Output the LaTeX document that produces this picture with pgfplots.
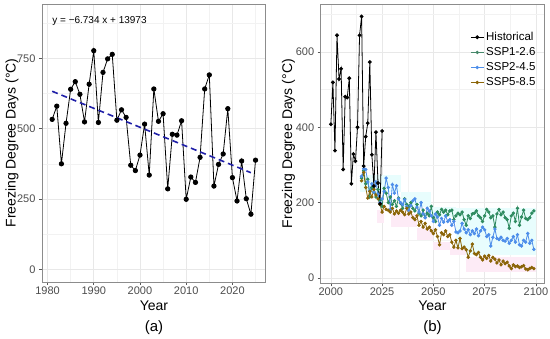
\documentclass[border=0pt]{standalone}
\usepackage{fontspec}
\setmainfont{Liberation Sans}
\usepackage{pgfplots}
\pgfplotsset{compat=1.18}
\usepackage{pgfplotstable}

\definecolor{sspone}{HTML}{2E8B60}
\definecolor{ssptwo}{HTML}{4D8EEA}
\definecolor{sspfive}{HTML}{8B6508}
\definecolor{trend}{HTML}{2020A8}
\definecolor{ribcyan}{HTML}{E8FDFD}
\definecolor{ribpink}{HTML}{FDEBF6}

\pgfplotstableread{
year val
1981 533
1982 580
1983 375
1984 519
1985 640
1986 667
1987 622
1988 524
1989 658
1990 777
1991 522
1992 700
1993 748
1994 764
1995 530
1996 567
1997 540
1998 370
1999 351
2000 406
2001 516
2002 335
2003 641
2004 526
2005 553
2006 286
2007 480
2008 477
2009 528
2010 249
2011 328
2012 309
2013 398
2014 641
2015 691
2016 296
2017 373
2018 410
2019 571
2020 326
2021 243
2022 385
2023 251
2024 196
2025 388
}\histA

\pgfplotstableread{
year val
2000 408
2001 519
2002 338
2003 644
2004 528
2005 555
2006 288
2007 481
2008 479
2009 530
2010 250
2011 329
2012 310
2013 400
2014 644
2015 694
2016 297
2017 375
2018 411
2019 573
2020 327
2021 244
2022 387
2023 252
2024 197
2025 390
}\histB

\pgfplotstableread{
year val
2015 265
2016 285
2017 250
2018 262
2019 215
2020 240
2021 228
2022 215
2023 235
2024 205
2025 190
2026 238
2027 225
2028 200
2029 215
2030 195
2031 205
2032 190
2033 212
2034 198
2035 185
2036 210
2037 195
2038 190
2039 200
2040 185
2041 178
2042 195
2043 172
2044 165
2045 180
2046 160
2047 172
2048 165
2049 190
2050 160
2051 150
2052 175
2053 168
2054 182
2055 175
2056 180
2057 168
2058 178
2059 180
2060 155
2061 165
2062 172
2063 168
2064 175
2065 155
2066 140
2067 165
2068 158
2069 170
2070 172
2071 178
2072 165
2073 160
2074 150
2075 165
2076 182
2077 175
2078 160
2079 165
2080 135
2081 170
2082 182
2083 168
2084 175
2085 160
2086 155
2087 132
2088 165
2089 172
2090 150
2091 185
2092 140
2093 162
2094 180
2095 158
2096 155
2097 160
2098 172
2099 178
}\sspA

\pgfplotstableread{
year val
2015 270
2016 290
2017 288
2018 255
2019 232
2020 250
2021 228
2022 255
2023 222
2024 200
2025 210
2026 230
2027 265
2028 240
2029 182
2030 248
2031 225
2032 245
2033 210
2034 200
2035 195
2036 208
2037 190
2038 180
2039 192
2040 205
2041 210
2042 188
2043 175
2044 200
2045 170
2046 160
2047 185
2048 178
2049 165
2050 150
2051 170
2052 162
2053 140
2054 158
2055 148
2056 165
2057 150
2058 155
2059 140
2060 150
2061 122
2062 120
2063 125
2064 145
2065 130
2066 120
2067 128
2068 115
2069 125
2070 118
2071 130
2072 112
2073 125
2074 135
2075 128
2076 110
2077 115
2078 85
2079 108
2080 130
2081 105
2082 102
2083 108
2084 100
2085 98
2086 105
2087 92
2088 100
2089 110
2090 95
2091 115
2092 88
2093 85
2094 100
2095 95
2096 118
2097 92
2098 100
2099 76
}\sspB

\pgfplotstableread{
year val
2015 258
2016 280
2017 240
2018 212
2019 230
2020 215
2021 235
2022 220
2023 210
2024 195
2025 175
2026 190
2027 182
2028 180
2029 175
2030 185
2031 170
2032 178
2033 172
2034 180
2035 175
2036 168
2037 185
2038 170
2039 175
2040 160
2041 155
2042 165
2043 140
2044 150
2045 135
2046 145
2047 130
2048 135
2049 125
2050 118
2051 128
2052 110
2053 88
2054 120
2055 115
2056 125
2057 110
2058 115
2059 95
2060 82
2061 100
2062 80
2063 105
2064 78
2065 82
2066 75
2067 55
2068 72
2069 90
2070 65
2071 62
2072 68
2073 55
2074 48
2075 58
2076 52
2077 60
2078 45
2079 55
2080 50
2081 40
2082 48
2083 35
2084 45
2085 38
2086 42
2087 32
2088 25
2089 35
2090 30
2091 32
2092 28
2093 30
2094 33
2095 24
2096 22
2097 25
2098 28
2099 25
}\sspC

\pgfplotsset{
  panel/.style={
    scale only axis,
    anchor=south west,
    axis line style={black!45, line width=0.7pt},
    grid=both,
    major grid style={black!9, line width=0.6pt},
    minor grid style={black!5, line width=0.35pt},
    tick style={black!65, line width=0.6pt},
    major tick length=3pt,
    minor tick length=0pt,
    tick align=outside,
    xtick pos=bottom,
    ytick pos=left,
    ticklabel style={font=\fontsize{11}{13}\selectfont, text=black!70},
    xticklabel style={inner sep=1.5pt},
    /pgf/number format/assume math mode=true,
    /pgf/number format/1000 sep={},
    clip=true,
  },
}

\begin{document}
\begin{tikzpicture}
\useasboundingbox (0,0) rectangle (550pt,339pt);

% ---------- panel (a) ----------
\begin{axis}[panel,
  at={(42pt,57pt)}, width=223.7pt, height=278pt,
  xmin=1978.8, xmax=2027.2, ymin=-45, ymax=943,
  xtick={1980,1990,2000,2010,2020},
  minor xtick={1985,1995,2005,2015,2025},
  ytick={0,250,500,750},
  minor ytick={125,375,625,875},
]
\addplot[black, line width=0.8pt, mark=*, mark size=2.2pt, mark options={fill=black, draw=black}] table[x=year,y=val] {\histA};
\addplot[trend, line width=1.6pt, dash pattern=on 6pt off 4pt] coordinates {(1981,632.9) (2024,343.4)};
\node[anchor=west, font=\fontsize{10}{12}\selectfont, inner sep=0pt] at (axis cs:1981,883) {y = −6.734 x + 13973};
\end{axis}

% ---------- panel (b) ----------
\begin{axis}[panel,
  at={(320.7pt,55.7pt)}, width=223.3pt, height=279.3pt,
  xmin=1995.05, xmax=2103.95, ymin=-14, ymax=727,
  xtick={2000,2025,2050,2075,2100},
  minor xtick={2012.5,2037.5,2062.5,2087.5},
  ytick={0,200,400,600},
  minor ytick={100,300,500,700},
  legend image code/.code={\draw[mark repeat=2,mark phase=2,#1] plot coordinates {(0pt,0pt) (6.5pt,0pt) (13pt,0pt)};},
  legend style={at={(rel axis cs:0.665,0.91)}, anchor=north west, draw=none, fill=none,
    font=\fontsize{11.5}{13.5}\selectfont, row sep=1.5pt, inner sep=1pt},
  legend cell align=left,
]
% faint ribbons
\addplot[draw=none, fill=ribcyan, forget plot] coordinates {(2014,229) (2034,229) (2034,273) (2014,273)} -- cycle;
\addplot[draw=none, fill=ribcyan, forget plot] coordinates {(2034,189) (2049,189) (2049,229) (2034,229)} -- cycle;
\addplot[draw=none, fill=ribcyan, forget plot] coordinates {(2049,163) (2061,163) (2061,189) (2049,189)} -- cycle;
\addplot[draw=none, fill=ribcyan, forget plot] coordinates {(2061,61) (2100,61) (2100,185) (2061,185)} -- cycle;
\addplot[draw=none, fill=ribpink, forget plot] coordinates {(2022.5,145) (2026,145) (2026,180) (2022.5,180)} -- cycle;
\addplot[draw=none, fill=ribpink, forget plot] coordinates {(2029.5,136) (2042,136) (2042,171) (2029.5,171)} -- cycle;
\addplot[draw=none, fill=ribpink, forget plot] coordinates {(2042,101) (2050,101) (2050,132) (2042,132)} -- cycle;
\addplot[draw=none, fill=ribpink, forget plot] coordinates {(2050,74) (2058,74) (2058,96) (2050,96)} -- cycle;
\addplot[draw=none, fill=ribpink, forget plot] coordinates {(2058,61) (2066,61) (2066,79) (2058,79)} -- cycle;
\addplot[draw=none, fill=ribpink, forget plot] coordinates {(2066,17) (2100,17) (2100,57) (2066,57)} -- cycle;

\addplot[sspone, line width=0.8pt, mark=*, mark size=1.3pt, mark options={fill=sspone, draw=sspone}, forget plot] table[x=year,y=val] {\sspA};
\addplot[ssptwo, line width=0.8pt, mark=*, mark size=1.3pt, mark options={fill=ssptwo, draw=ssptwo}, forget plot] table[x=year,y=val] {\sspB};
\addplot[sspfive, line width=0.8pt, mark=*, mark size=1.3pt, mark options={fill=sspfive, draw=sspfive}, forget plot] table[x=year,y=val] {\sspC};
\addplot[black, line width=0.8pt, mark=*, mark size=1.5pt, mark options={fill=black, draw=black}, forget plot] table[x=year,y=val] {\histB};

\addlegendimage{black, line width=0.8pt, mark=*, mark size=1.5pt, mark options={fill=black}}
\addlegendentry{Historical}
\addlegendimage{sspone!70!gray, line width=0.8pt, mark=*, mark size=1.3pt, mark options={fill=sspone!70!gray}}
\addlegendentry{SSP1-2.6}
\addlegendimage{ssptwo, line width=0.8pt, mark=*, mark size=1.3pt, mark options={fill=ssptwo}}
\addlegendentry{SSP2-4.5}
\addlegendimage{sspfive, line width=0.8pt, mark=*, mark size=1.3pt, mark options={fill=sspfive}}
\addlegendentry{SSP5-8.5}
\end{axis}

% ---------- titles ----------
\node[rotate=90, inner sep=0pt, font=\fontsize{14}{16}\selectfont] at (12pt,196pt) {Freezing Degree Days (°C)};
\node[rotate=90, inner sep=0pt, font=\fontsize{14}{16}\selectfont] at (288.5pt,195.4pt) {Freezing Degree Days (°C)};
\node[inner sep=0pt, font=\fontsize{14}{16}\selectfont] at (154pt,33.5pt) {Year};
\node[inner sep=0pt, font=\fontsize{14}{16}\selectfont] at (432.5pt,33.2pt) {Year};
\node[inner sep=0pt, font=\fontsize{15}{17}\selectfont] at (154pt,11pt) {(a)};
\node[inner sep=0pt, font=\fontsize{15}{17}\selectfont] at (432.5pt,11pt) {(b)};
\end{tikzpicture}
\end{document}
